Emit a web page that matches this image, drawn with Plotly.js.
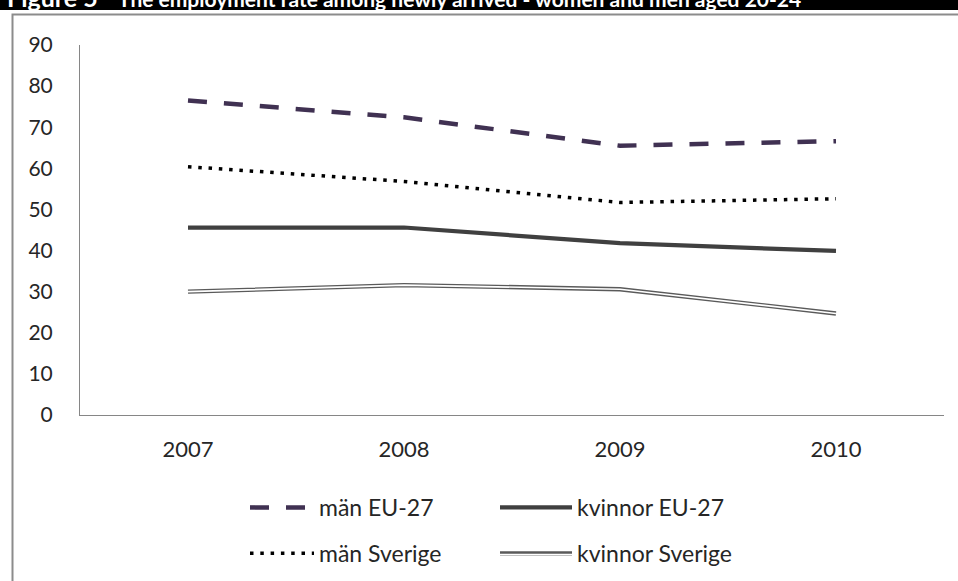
<!DOCTYPE html>
<html>
<head>
<meta charset="utf-8">
<script src="https://cdn.plot.ly/plotly-3.0.1.min.js"></script>
<style>html,body{margin:0;padding:0;background:#fff;}#chart{width:958px;height:581px;}</style>
</head>
<body>
<div id="chart"></div>
<script>
// ---- data ----
var years = ['2007', '2008', '2009', '2010'];
var manEU = [76.5, 72.4, 65.5, 66.6];
var kvinnorEU = [45.6, 45.6, 41.8, 39.9];
var manSverige = [60.4, 56.8, 51.7, 52.6];
var kvinnorSverige = [30.0, 31.6, 30.6, 24.7];
var seriesNames = ['män EU-27', 'kvinnor EU-27', 'män Sverige', 'kvinnor Sverige'];
var yTicks = [0, 10, 20, 30, 40, 50, 60, 70, 80, 90];
var titleLead = 'Figure 5';
var titleRest = 'The employment rate among newly arrived - women and men aged 20-24';

// ---- layout helpers (pixel -> paper) ----
var L = 80, R = 14, T = 45, B = 166, W = 958, H = 581;
var PW = W - L - R, PH = H - T - B;
function px(x) { return (x - L) / PW; }
function py(y) { return (H - B - y) / PH; }

var traces = [
  {x: years, y: manEU, name: seriesNames[0], mode: 'lines', legend: 'legend', legendgroup: 'a',
   line: {color: '#403152', width: 4.5, dash: '19px,17px'}},
  {x: years, y: manSverige, name: seriesNames[2], mode: 'lines', legend: 'legend', legendgroup: 'b',
   line: {color: '#000000', width: 3.5, dash: '3.5px,6.8px'}},
  {x: years, y: kvinnorEU, name: seriesNames[1], mode: 'lines', legend: 'legend2', legendgroup: 'c',
   line: {color: '#404040', width: 4.2}},
  {x: years, y: kvinnorSverige, name: seriesNames[3], mode: 'lines', legend: 'legend2', legendgroup: 'd',
   line: {color: '#5a5a5a', width: 4.4}},
  // white core of the double line (its legend entry overlays the grey one)
  {x: years, y: kvinnorSverige, name: ' ', mode: 'lines', legend: 'legend3', legendgroup: 'e',
   hoverinfo: 'skip', line: {color: '#ffffff', width: 1.6}}
];

var legendCommon = {
  xref: 'container', yref: 'container', xanchor: 'left', yanchor: 'top',
  orientation: 'v', bgcolor: 'rgba(0,0,0,0)', borderwidth: 0,
  font: {family: 'Lato, sans-serif', size: 23, color: '#262626'},
  tracegroupgap: 13
};

var layout = {
  width: W, height: H,
  margin: {l: L, r: R, t: T, b: B, autoexpand: false},
  paper_bgcolor: '#ffffff', plot_bgcolor: '#ffffff',
  font: {family: 'Lato, sans-serif', color: '#262626'},
  showlegend: true,
  xaxis: {
    type: 'category', range: [-0.5, 3.5], showgrid: false, zeroline: false,
    showline: true, linecolor: '#868686', linewidth: 1, ticks: '', automargin: false,
    tickangle: 0,
    tickfont: {family: 'Lato, sans-serif', size: 22, color: '#262626'},
    ticklabelstandoff: 15, fixedrange: true
  },
  yaxis: {
    range: [0, 90], tickvals: yTicks, showgrid: false, zeroline: false, automargin: false,
    showline: true, linecolor: '#868686', linewidth: 1, ticks: '',
    tickfont: {family: 'Lato, sans-serif', size: 21, color: '#262626'},
    ticklabelstandoff: 22, fixedrange: true
  },
  legend: Object.assign({}, legendCommon, {x: 245 / W, y: 1 - 486 / H, itemwidth: 64}),
  legend2: Object.assign({}, legendCommon, {x: 495 / W, y: 1 - 486 / H, itemwidth: 72}),
  legend3: Object.assign({}, legendCommon, {x: 495 / W, y: 1 - 533 / H, itemwidth: 72}),
  shapes: [
    {type: 'rect', xref: 'paper', yref: 'paper', x0: px(-5), x1: px(W + 5), y0: py(10), y1: py(-5),
     fillcolor: '#000000', line: {width: 0}, layer: 'below'},
    {type: 'rect', xref: 'paper', yref: 'paper', x0: px(12.5), x1: px(W + 10), y0: py(H + 10), y1: py(14.5),
     fillcolor: 'rgba(0,0,0,0)', line: {color: '#8c8c8c', width: 2}, layer: 'below'}
  ],
  annotations: [
    {xref: 'paper', yref: 'paper', x: px(6), y: py(13), xanchor: 'left', yanchor: 'bottom', borderpad: 0,
     text: '<b>' + titleLead + '</b>', showarrow: false,
     font: {family: 'Lato, sans-serif', size: 25, color: '#ffffff'}},
    {xref: 'paper', yref: 'paper', x: px(117), y: py(12), xanchor: 'left', yanchor: 'bottom', borderpad: 0,
     text: '<b>' + titleRest + '</b>', showarrow: false,
     font: {family: 'Lato, sans-serif', size: 21, color: '#ffffff'}}
  ]
};

Plotly.newPlot('chart', traces, layout, {displayModeBar: false, staticPlot: true});
</script>
</body>
</html>
